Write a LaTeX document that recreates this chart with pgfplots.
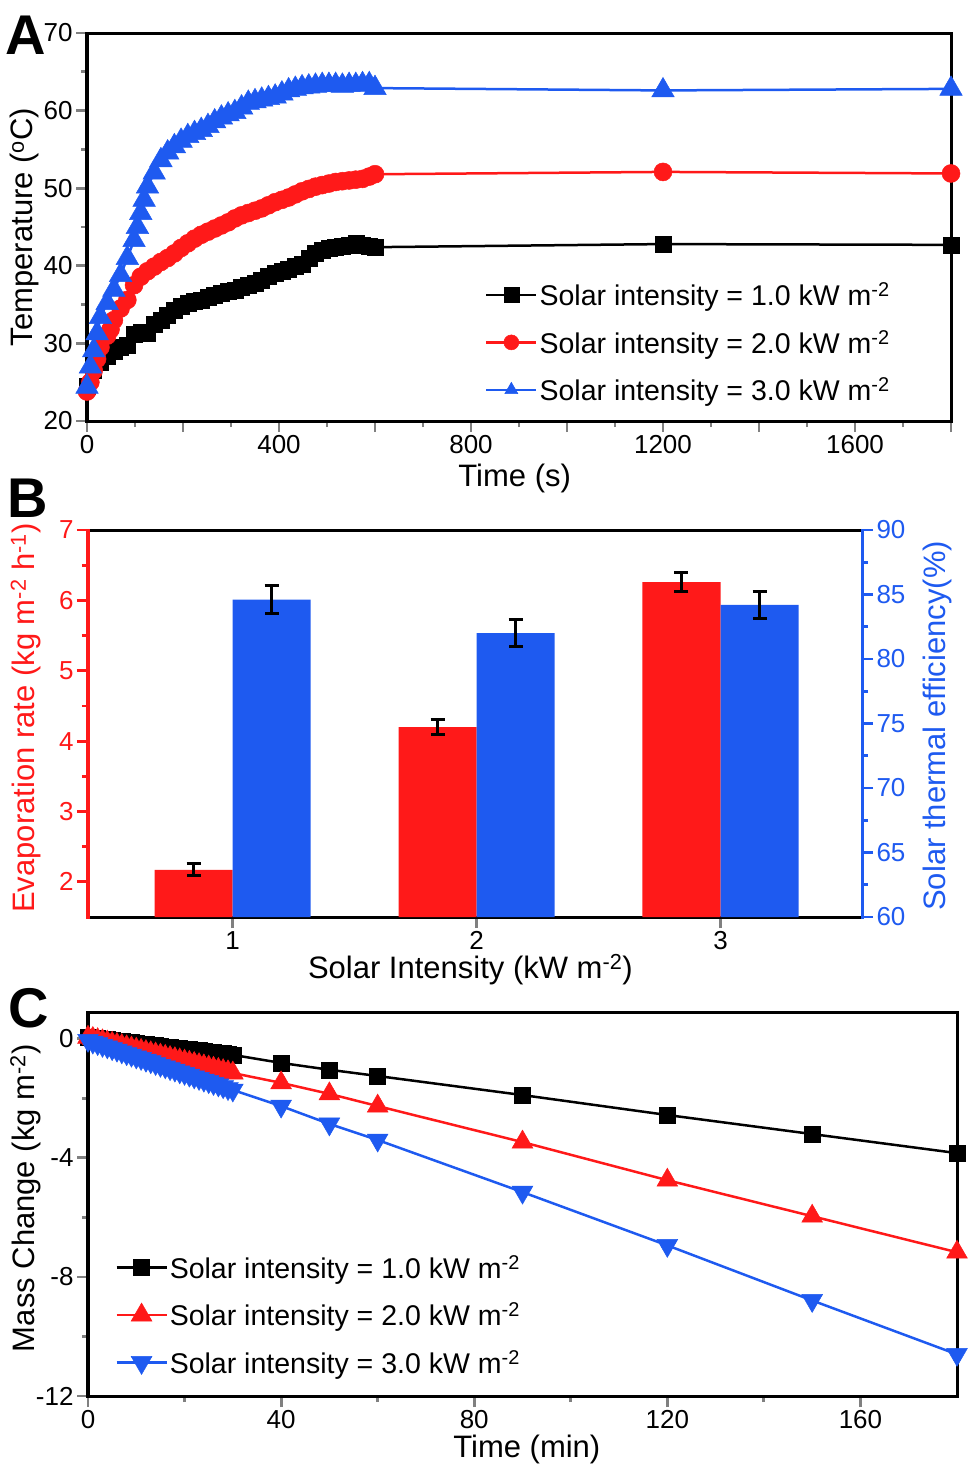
\documentclass[border=0pt]{standalone}
\usepackage{fontspec}
\setmainfont{Liberation Sans}
\usepackage{pgfplots}
\pgfplotsset{compat=1.18}

\definecolor{myred}{RGB}{255,25,25}
\definecolor{myblue}{RGB}{30,90,240}

\pgfplotsset{
  panel/.style={
    scale only axis, anchor=south west,
    separate axis lines,
    axis line style={line width=3bp, line cap=rect},
    tick align=outside, xtick pos=bottom, ytick pos=left,
    major tick length=11bp, minor tick length=6bp,
    tick style={line width=2.8bp},
    tick label style={font=\fontsize{26bp}{30bp}\selectfont},
    label style={font=\fontsize{31bp}{36bp}\selectfont},
    /pgf/number format/assume math mode=true,
    legend style={draw=none, fill=none, font=\fontsize{28.5bp}{32bp}\selectfont,
      cells={anchor=west}, row sep=19bp},
    legend image code/.code={%
      \draw[mark repeat=2,mark phase=2,##1] plot coordinates {(0bp,0bp) (25bp,0bp) (50bp,0bp)};},
  }
}

\begin{document}
\begin{tikzpicture}
\path[use as bounding box] (0,0) rectangle (974bp,-1478bp);

% ---------- A: temperature vs time
\begin{axis}[panel, at={(87bp,-421bp)}, width=864bp, height=388bp,
  clip=false,
  xmin=0, xmax=1800, ymin=20, ymax=70,
  xtick={0,200,...,1800}, xticklabels={0,,400,,800,,1200,,1600,},
  minor x tick num=1,
  ytick={20,30,...,70}, minor y tick num=1,
  xlabel={Time (s)}, ylabel={Temperature (\textsuperscript{o}C)},
  xlabel style={at={(axis description cs:0.495,-0.147)}, anchor=center},
  ylabel style={at={(axis description cs:-0.072,0.5)}, anchor=center},
  legend style={at={(0.935,0.367)}, anchor=north east},
  legend image post style={mark size=7.5bp},
]
\addplot[black, line width=2.5bp, mark=square*, mark size=8bp, mark options={line width=0.5bp}]
coordinates {
(0,24.5)(14,26.5)(28,27.6)(42,28.3)(56,29.0)(70,29.5)(84,29.8)(98,31.2)(112,31.5)
(126,31.3)(140,32.5)(154,33.0)(168,33.6)(182,34.3)(196,34.8)(210,35.2)(224,35.4)
(238,35.6)(252,35.9)(266,36.2)(280,36.4)(294,36.7)(308,36.9)(322,37.2)(336,37.5)
(350,37.8)(364,38.2)(378,38.6)(392,39.0)(406,39.3)(420,39.6)(434,39.9)(448,40.2)
(462,41.0)(476,41.6)(490,42.0)(504,42.2)(518,42.4)(532,42.5)(546,42.7)(560,42.9)
(574,42.7)(588,42.5)(600,42.4)(1200,42.8)(1800,42.7)
};
\addlegendentry{Solar intensity = 1.0 kW m\textsuperscript{-2}}
\addplot[myred, line width=2.5bp, mark=*, mark size=9bp, mark options={line width=0.5bp}]
coordinates {
(0,23.8)(7,25.0)(14,26.5)(21,28.0)(28,29.5)(42,31.0)(49,31.8)(56,33.0)(70,34.5)
(84,35.6)(98,37.5)(112,38.6)(126,39.3)(140,39.9)(154,40.5)(168,41.0)(182,41.6)
(196,42.3)(210,42.9)(224,43.5)(238,44.0)(252,44.4)(266,44.8)(280,45.2)(294,45.6)
(308,46.1)(322,46.5)(336,46.8)(350,47.1)(364,47.4)(378,47.8)(392,48.2)(406,48.5)
(420,48.8)(434,49.2)(448,49.6)(462,49.9)(476,50.2)(490,50.4)(504,50.6)(518,50.8)
(532,50.9)(546,51.0)(560,51.1)(574,51.2)(588,51.5)(600,51.8)(1200,52.1)(1800,51.9)
};
\addlegendentry{Solar intensity = 2.0 kW m\textsuperscript{-2}}
\addplot[myblue, line width=2.5bp, mark=triangle*, mark size=13bp, mark options={line width=0.5bp}]
coordinates {
(0,24.4)(7,27.0)(14,29.1)(21,31.3)(28,33.4)(42,35.2)(56,36.9)(70,38.8)(84,41.0)
(98,43.3)(105,45.0)(112,46.8)(119,48.5)(126,50.2)(140,52.0)(154,53.6)(168,54.6)
(182,55.4)(196,56.1)(210,56.7)(224,57.1)(238,57.5)(252,58.0)(266,58.6)(280,59.1)
(294,59.5)(308,59.8)(322,60.4)(336,61.0)(350,61.2)(364,61.4)(378,61.6)(392,61.8)
(406,62.2)(420,62.6)(434,62.8)(448,63.0)(462,63.1)(476,63.2)(490,63.3)(504,63.3)
(518,63.3)(532,63.2)(546,63.3)(560,63.3)(574,63.4)(588,63.4)(600,62.9)(1200,62.6)(1800,62.8)
};
\addlegendentry{Solar intensity = 3.0 kW m\textsuperscript{-2}}
\end{axis}

% ---------- B: evaporation rate (left) and efficiency (right)
\begin{axis}[panel, at={(88bp,-917bp)}, width=774bp, height=387bp,
  xmin=0.407, xmax=3.58, ymin=1.5, ymax=7,
  ybar, bar width=0.32,
  xtick={1,2,3}, ytick={2,3,...,7}, minor y tick num=1,
  y axis line style={draw=myred},
  every major y tick/.append style={myred}, every minor y tick/.append style={myred},
  yticklabel style={text=myred},
  xlabel={Solar Intensity (kW m\textsuperscript{-2})},
  ylabel={Evaporation rate (kg m\textsuperscript{-2} h\textsuperscript{-1})},
  ylabel style={text=myred, at={(axis description cs:-0.08,0.514)}, anchor=center},
  xlabel style={at={(axis description cs:0.494,-0.137)}, anchor=center},
]
\addplot[fill=myred, draw=none, bar shift=-0.16,
  error bars/.cd, y dir=both, y explicit,
  error bar style={line width=2.5bp, black},
  error mark options={rotate=90, mark size=7bp, line width=3bp, black}]
coordinates {(1,2.17) +- (0,0.085) (2,4.20) +- (0,0.11) (3,6.26) +- (0,0.14)};
\end{axis}
\begin{axis}[panel, at={(88bp,-917bp)}, width=774bp, height=387bp,
  xmin=0.407, xmax=3.58, ymin=60, ymax=90,
  ybar, bar width=0.32,
  axis x line=none, axis y line*=right, ytick pos=right,
  y axis line style={draw=myblue},
  every major y tick/.append style={myblue}, every minor y tick/.append style={myblue},
  ytick={60,65,...,90}, minor y tick num=1,
  yticklabel style={text=myblue},
  ylabel={Solar thermal efficiency(\%)},
  ylabel style={text=myblue, at={(axis description cs:1.097,0.494)}, anchor=center, rotate=0},
]
\addplot[fill=myblue, draw=none, bar shift=0.16,
  error bars/.cd, y dir=both, y explicit,
  error bar style={line width=2.5bp, black},
  error mark options={rotate=90, mark size=7bp, line width=3bp, black}]
coordinates {(1,84.6) +- (0,1.1) (2,82.0) +- (0,1.05) (3,84.2) +- (0,1.05)};
\end{axis}

% ---------- C: mass change vs time
\begin{axis}[panel, at={(88bp,-1396bp)}, width=869bp, height=384bp,
  clip=false,
  xmin=0, xmax=180, ymin=-12, ymax=0.9,
  xtick={0,40,...,160}, minor x tick num=1,
  ytick={0,-4,-8,-12}, minor y tick num=1,
  xlabel={Time (min)}, ylabel={Mass Change (kg m\textsuperscript{-2})},
  xlabel style={at={(axis description cs:0.505,-0.14)}, anchor=center},
  ylabel style={at={(axis description cs:-0.072,0.515)}, anchor=center},
  legend style={at={(0.022,0.377)}, anchor=north west, inner xsep=8bp},
]
\addplot[black, line width=2.5bp, mark=square*, mark size=8bp, mark options={line width=0.5bp}]
coordinates {
(0,0.05)(1,0.03)(2,0.01)(3,-0.01)(4,-0.03)(5,-0.05)(6,-0.07)(7,-0.09)(8,-0.11)(9,-0.13)
(10,-0.15)(11,-0.17)(12,-0.19)(13,-0.21)(14,-0.23)(15,-0.25)(16,-0.27)(17,-0.29)(18,-0.31)
(19,-0.33)(20,-0.35)(21,-0.36)(22,-0.38)(23,-0.40)(24,-0.42)(25,-0.44)(26,-0.46)(27,-0.48)
(28,-0.50)(29,-0.52)(30,-0.54)
(40,-0.81)(50,-1.04)(60,-1.25)(90,-1.89)(120,-2.56)(150,-3.20)(180,-3.84)
};
\addlegendentry{Solar intensity = 1.0 kW m\textsuperscript{-2}}
\addplot[myred, line width=2.5bp, mark=triangle*, mark size=12bp, mark options={line width=0.5bp}]
coordinates {
(0,0.05)(1,0.01)(2,-0.03)(3,-0.07)(4,-0.11)(5,-0.15)(6,-0.19)(7,-0.23)(8,-0.27)(9,-0.31)
(10,-0.35)(11,-0.39)(12,-0.43)(13,-0.47)(14,-0.51)(15,-0.55)(16,-0.59)(17,-0.63)(18,-0.67)
(19,-0.71)(20,-0.75)(21,-0.79)(22,-0.83)(23,-0.87)(24,-0.91)(25,-0.95)(26,-0.99)(27,-1.03)
(28,-1.07)(29,-1.11)(30,-1.15)
(40,-1.48)(50,-1.85)(60,-2.26)(90,-3.47)(120,-4.75)(150,-5.96)(180,-7.17)
};
\addlegendentry{Solar intensity = 2.0 kW m\textsuperscript{-2}}
\addplot[myblue, line width=2.5bp, mark=triangle*, mark size=12bp, mark options={line width=0.5bp, rotate=180}]
coordinates {
(0,-0.05)(1,-0.11)(2,-0.16)(3,-0.22)(4,-0.27)(5,-0.33)(6,-0.38)(7,-0.44)(8,-0.50)(9,-0.55)
(10,-0.61)(11,-0.66)(12,-0.72)(13,-0.77)(14,-0.83)(15,-0.89)(16,-0.94)(17,-1.00)(18,-1.05)
(19,-1.11)(20,-1.16)(21,-1.22)(22,-1.28)(23,-1.33)(24,-1.39)(25,-1.44)(26,-1.50)(27,-1.55)
(28,-1.61)(29,-1.67)(30,-1.72)
(40,-2.26)(50,-2.86)(60,-3.40)(90,-5.15)(120,-6.94)(150,-8.79)(180,-10.60)
};
\addlegendentry{Solar intensity = 3.0 kW m\textsuperscript{-2}}
\end{axis}

\node[font=\bfseries\fontsize{56bp}{60bp}\selectfont] at (26bp,-35bp) {A};
\node[font=\bfseries\fontsize{56bp}{60bp}\selectfont] at (28bp,-498bp) {B};
\node[font=\bfseries\fontsize{56bp}{60bp}\selectfont] at (29bp,-1008bp) {C};
\end{tikzpicture}
\end{document}
